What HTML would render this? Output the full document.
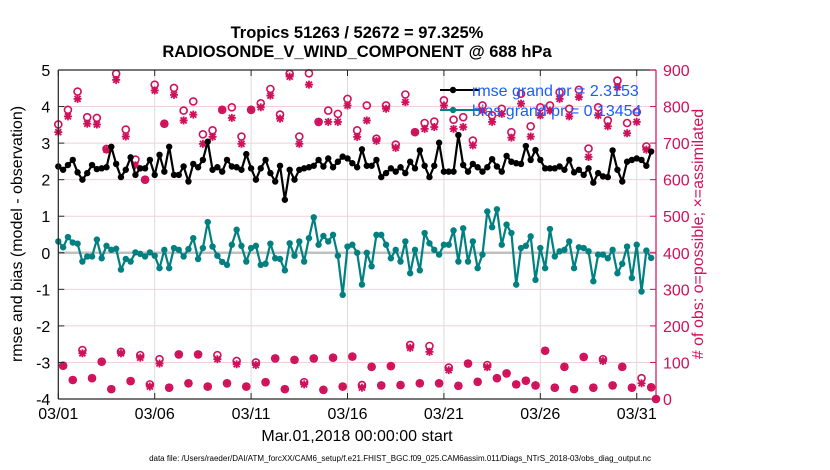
<!DOCTYPE html>
<html><head><meta charset="utf-8"><style>
body{margin:0;background:#fff;}
svg{display:block;font-family:"Liberation Sans",Arial,sans-serif;}
</style></head><body>
<svg id="chart" width="830" height="470" viewBox="0 0 830 470" xmlns="http://www.w3.org/2000/svg">
<g id="grid"></g>
<g id="marks"></g>
<g id="axes"></g>
<text x="357" y="38" text-anchor="middle" font-size="16.5" font-weight="bold">Tropics 51263 / 52672 = 97.325%</text>
<text x="357" y="57" text-anchor="middle" font-size="16.5" font-weight="bold">RADIOSONDE_V_WIND_COMPONENT @ 688 hPa</text>
<text x="357" y="441" text-anchor="middle" font-size="16">Mar.01,2018 00:00:00 start</text>
<text transform="translate(22,234) rotate(-90)" text-anchor="middle" font-size="16">rmse and bias (model - observation)</text>
<text transform="translate(703,234) rotate(-90)" text-anchor="middle" font-size="16" fill="#d0105a"># of obs: o=possible; ×=assimilated</text>
<text x="400" y="461" text-anchor="middle" font-size="8">data file: /Users/raeder/DAI/ATM_forcXX/CAM6_setup/f.e21.FHIST_BGC.f09_025.CAM6assim.011/Diags_NTrS_2018-03/obs_diag_output.nc</text>
<g id="legend">
  <line x1="440" y1="90" x2="480" y2="90" stroke="#000" stroke-width="2"/>
  <circle cx="453" cy="90" r="3.2" fill="#000"/>
  <text x="472" y="96" font-size="16" fill="#1a5cff">rmse grand pr = 2.3153</text>
  <line x1="440" y1="110" x2="480" y2="110" stroke="#008080" stroke-width="2"/>
  <circle cx="453" cy="110" r="3.2" fill="#008080"/>
  <text x="472" y="116" font-size="16" fill="#1a5cff">bias grand pr = 0.13454</text>
</g>
</svg>
<script>
const rmse=[2.36,2.27,2.4,2.54,2.2,2.0,2.18,2.4,2.29,2.31,2.34,2.9,2.43,2.07,2.27,2.61,2.13,2.31,2.31,2.54,2.13,2.68,2.22,2.9,2.13,2.13,2.36,1.95,2.43,2.34,2.54,3.04,2.27,2.34,2.22,2.54,2.36,2.34,2.27,2.7,2.31,2.0,2.31,2.54,2.18,1.95,2.38,1.45,2.27,2.0,2.27,2.31,2.34,2.38,2.54,2.36,2.58,2.34,2.49,2.63,2.58,2.45,2.34,2.83,2.38,2.38,2.54,2.07,2.18,2.31,2.22,2.34,2.18,2.49,2.31,2.8,2.38,2.07,2.38,3.01,2.22,2.22,2.22,3.22,2.4,2.22,2.43,2.34,2.22,2.34,2.56,2.36,2.22,2.65,2.49,2.45,2.43,2.92,2.54,2.81,2.54,2.31,2.31,2.31,2.36,2.27,2.54,2.2,2.27,2.13,2.31,1.92,2.18,2.09,2.07,2.8,2.27,1.95,2.49,2.54,2.58,2.54,2.38,2.77];
const bias=[0.31,0.15,0.43,0.28,0.25,-0.24,-0.1,-0.1,0.36,-0.15,0.19,0.08,0.11,-0.46,-0.17,-0.24,0.01,-0.03,-0.1,0.01,-0.08,-0.42,0.08,-0.42,0.13,0.08,-0.1,0.1,0.4,-0.17,0.13,0.84,0.17,-0.08,-0.25,-0.33,0.22,0.63,0.19,-0.24,0.13,0.19,-0.33,-0.3,0.25,-0.15,-0.17,-0.48,0.26,-0.08,0.31,-0.24,0.4,0.97,0.22,0.46,0.31,0.49,-0.08,-1.15,0.17,0.22,0,-0.87,0,-0.37,0.49,0.49,0.22,-0.15,0.08,-0.24,0.31,-0.56,0.08,-0.48,0.54,0.26,0.08,-0.05,0.22,0.22,0.61,-0.24,0.67,-0.24,0.31,-0.42,-0.05,1.13,0.7,1.19,0.22,0.77,0.54,-0.87,0.13,0.19,0.45,-0.74,0.13,-0.42,0.65,-0.1,0.04,0.08,0.31,-0.42,0.15,0.13,0.04,-0.78,-0.05,-0.05,-0.15,0.08,-0.56,-0.3,0.17,-0.69,0.22,-1.06,0.06,-0.14];
const possibleEven=[751,791,841,771,769,684,890,737,655,600,860,753,851,789,814,724,735,791,798,718,791,809,848,778,890,718,891,758,789,780,821,735,803,712,803,696,833,730,755,759,817,764,771,707,803,776,794,730,835,746,798,803,839,794,846,685,798,762,871,755,785,691,0];
const assimEven=[730,773,821,753,751,682,873,718,639,600,844,753,832,762,778,698,717,791,769,698,791,798,830,767,882,698,860,758,758,758,803,717,762,706,794,687,812,730,739,744,803,739,744,694,789,758,780,715,808,718,776,789,821,773,826,662,776,746,853,727,758,682,0];
const possibleOdd=[91,52,134,57,102,27,129,49,120,40,109,31,122,43,122,34,120,43,104,34,100,46,111,27,107,46,111,25,113,34,116,38,88,37,90,38,148,43,145,43,86,36,97,47,93,57,70,40,50,37,132,31,88,27,115,31,109,37,88,31,57,32];
const assimOdd=[91,52,125,57,102,27,125,49,113,34,97,31,122,43,122,34,109,43,95,34,93,46,111,27,107,40,111,25,113,34,116,31,88,37,90,38,140,43,129,43,79,36,97,47,87,57,70,40,50,37,132,31,88,27,115,31,104,37,88,31,43,32];
const xTickLabels=['03/01','03/06','03/11','03/16','03/21','03/26','03/31'];
const xTickDays=[0,5,10,15,20,25,30];
const yLeftTicks=[5,4,3,2,1,0,-1,-2,-3,-4];
const yRightTicks=[900,800,700,600,500,400,300,200,100,0];

const X0=58.3,X1=656,Y0=70,Y1=399,DAYS=31;
const xs=i=>X0+(i/4)/DAYS*(X1-X0);
const xd=d=>X0+d/DAYS*(X1-X0);
const yl=v=>Y0+(5-v)/9*(Y1-Y0);
const yr=v=>Y1-v/900*(Y1-Y0);
const NS='http://www.w3.org/2000/svg';
function mk(tag,parent,attrs){const e=document.createElementNS(NS,tag);for(const k in attrs)e.setAttribute(k,attrs[k]);parent.appendChild(e);return e;}
const grid=document.getElementById('grid'),marks=document.getElementById('marks'),axes=document.getElementById('axes');
const CR='#d0105a';
yRightTicks.forEach(v=>{const l=mk('line',grid,{x1:X0,x2:X1,y1:yr(v),y2:yr(v),stroke:'#f2cfdc','stroke-width':1});

});
xTickDays.forEach(d=>{const l=mk('line',grid,{x1:xd(d),x2:xd(d),y1:Y0,y2:Y1,stroke:'#dcdcdc','stroke-width':1});

});
const z=mk('line',grid,{x1:X0,x2:X1,y1:yl(0),y2:yl(0),stroke:'#c0c0c0','stroke-width':2.5});


function star(cx,cy){const g=mk('g',marks,{stroke:CR,'stroke-width':1.8});


const r=4;mk('line',g,{x1:cx-r,x2:cx+r,y1:cy,y2:cy});mk('line',g,{x1:cx,x2:cx,y1:cy-r,y2:cy+r});
const q=3;mk('line',g,{x1:cx-q,x2:cx+q,y1:cy-q,y2:cy+q});mk('line',g,{x1:cx-q,x2:cx+q,y1:cy+q,y2:cy-q});}
function ring(cx,cy){const c=mk('circle',marks,{cx:cx,cy:cy,r:3.5,fill:'none',stroke:CR,'stroke-width':1.6});

}
possibleEven.forEach((v,k)=>ring(xs(2*k),yr(v)));
assimEven.forEach((v,k)=>star(xs(2*k),yr(v)));
possibleOdd.forEach((v,k)=>ring(xs(2*k+1),yr(v)));
assimOdd.forEach((v,k)=>star(xs(2*k+1),yr(v)));
function series(arr,color,name){const p=mk('polyline',marks,{points:arr.map((v,i)=>xs(i)+','+yl(v)).join(' '),fill:'none',stroke:color,'stroke-width':2.2,'stroke-linejoin':'round'});


arr.forEach((v,i)=>{const c=mk('circle',marks,{cx:xs(i),cy:yl(v),r:3.2,fill:color});

});}
series(rmse,'#000','rmse');
series(bias,'#008080','bias');
const L=mk('line',axes,{x1:X0,x2:X0,y1:Y0,y2:Y1,stroke:'#262626','stroke-width':1.2});


const T=mk('line',axes,{x1:X0,x2:X1,y1:Y0,y2:Y0,stroke:'#262626','stroke-width':1.2});


const B=mk('line',axes,{x1:X0,x2:X1,y1:Y1,y2:Y1,stroke:'#262626','stroke-width':1.2});


const R=mk('line',axes,{x1:X1,x2:X1,y1:Y0,y2:Y1,stroke:CR,'stroke-width':1.2});


yLeftTicks.forEach(v=>{mk('line',axes,{x1:X0,x2:X0+6,y1:yl(v),y2:yl(v),stroke:'#262626'});
const t=mk('text',axes,{x:X0-8,y:yl(v)+6,'text-anchor':'end','font-size':16});t.textContent=v;

});
yRightTicks.forEach(v=>{mk('line',axes,{x1:X1-6,x2:X1,y1:yr(v),y2:yr(v),stroke:CR});
const t=mk('text',axes,{x:X1+7,y:yr(v)+6,'font-size':16,fill:CR});t.textContent=v;

});
xTickDays.forEach((d,k)=>{mk('line',axes,{x1:xd(d),x2:xd(d),y1:Y1,y2:Y1-6,stroke:'#262626'});mk('line',axes,{x1:xd(d),x2:xd(d),y1:Y0,y2:Y0+6,stroke:'#262626'});
const t=mk('text',axes,{x:xd(d),y:Y1+20,'text-anchor':'middle','font-size':16});t.textContent=xTickLabels[k];

});
</script>
</body></html>
